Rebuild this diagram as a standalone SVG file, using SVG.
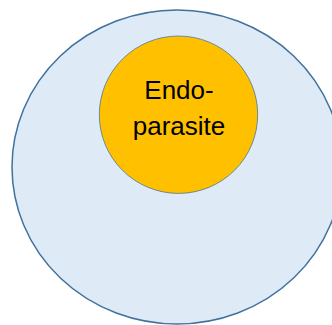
<svg xmlns="http://www.w3.org/2000/svg" width="332" height="325" viewBox="0 0 332 325">
  <style>
    .host { fill: #DEEBF7; stroke: #41719C; stroke-width: 1.5; }
    .para { fill: #FFC000; stroke: #41719C; stroke-width: 0.75; }
    .label { font-family: "Liberation Sans", Arial, sans-serif; font-size: 26px; fill: #000000; text-anchor: middle; }
  </style>
  <rect width="332" height="325" fill="#FFFFFF"/>
  <g id="host">
    <ellipse class="host" cx="177" cy="167" rx="165" ry="157"/>
  </g>
  <g id="endoparasite">
    <ellipse class="para" cx="178.5" cy="114.7" rx="79.2" ry="78.7"/>
    <text class="label" x="179" y="99">Endo-</text>
    <text class="label" x="179" y="135">parasite</text>
  </g>
  <g id="connectors"></g>
</svg>
